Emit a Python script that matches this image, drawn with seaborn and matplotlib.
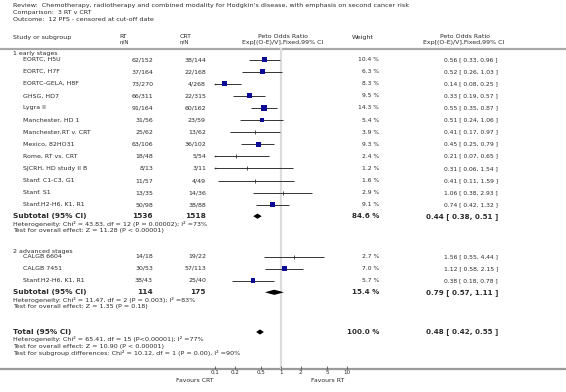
import numpy as np
import pandas as pd
import matplotlib
matplotlib.use("Agg")
import matplotlib.pyplot as plt
import seaborn as sns
from matplotlib.patches import Polygon

# ---------------- data ----------------
title_lines = [
    "Review:  Chemotherapy, radiotherapy and combined modality for Hodgkin's disease, with emphasis on second cancer risk",
    "Comparison:  3 RT v CRT",
    "Outcome:  12 PFS - censored at cut-off date",
]

g1_name = "1 early stages"
g1_studies = ["EORTC, H5U", "EORTC, H7F", "EORTC-GELA, H8F", "GHSG, HD7", "Lygra II",
              "Manchester, HD 1", "Manchester,RT v. CRT", "Mexico, 82HO31", "Rome, RT vs. CRT",
              "SJCRH, HD study II B", "Stanf. C1-C3, G1", "Stanf. S1", "Stanf.H2-H6, K1, R1"]
g1_rt = ["62/152", "37/164", "73/270", "66/311", "91/164", "31/56", "25/62", "63/106",
         "18/48", "8/13", "11/57", "13/35", "50/98"]
g1_crt = ["38/144", "22/168", "4/268", "22/315", "60/162", "23/59", "13/62", "36/102",
          "5/54", "3/11", "4/49", "14/36", "38/88"]
g1_weight = [10.4, 6.3, 8.3, 9.5, 14.3, 5.4, 3.9, 9.3, 2.4, 1.2, 1.6, 2.9, 9.1]
g1_or = [0.56, 0.52, 0.14, 0.33, 0.55, 0.51, 0.41, 0.45, 0.21, 0.31, 0.41, 1.06, 0.74]
g1_lo = [0.33, 0.26, 0.08, 0.19, 0.35, 0.24, 0.17, 0.25, 0.07, 0.06, 0.11, 0.38, 0.42]
g1_hi = [0.96, 1.03, 0.25, 0.57, 0.87, 1.06, 0.97, 0.79, 0.65, 1.54, 1.59, 2.93, 1.32]
g1_sub_n = ["1536", "1518"]
g1_sub = [84.6, 0.44, 0.38, 0.51]
g1_het = ["Heterogeneity: Chi² = 43.83, df = 12 (P = 0.00002); I² =73%",
          "Test for overall effect: Z = 11.28 (P < 0.00001)"]

g2_name = "2 advanced stages"
g2_studies = ["CALGB 6604", "CALGB 7451", "Stanf.H2-H6, K1, R1"]
g2_rt = ["14/18", "30/53", "38/43"]
g2_crt = ["19/22", "57/113", "25/40"]
g2_weight = [2.7, 7.0, 5.7]
g2_or = [1.56, 1.12, 0.38]
g2_lo = [0.55, 0.58, 0.18]
g2_hi = [4.44, 2.15, 0.78]
g2_sub_n = ["114", "175"]
g2_sub = [15.4, 0.79, 0.57, 1.11]
g2_het = ["Heterogeneity: Chi² = 11.47, df = 2 (P = 0.003); I² =83%",
          "Test for overall effect: Z = 1.35 (P = 0.18)"]

total = [100.0, 0.48, 0.42, 0.55]
total_het = ["Heterogeneity: Chi² = 65.41, df = 15 (P<0.00001); I² =77%",
             "Test for overall effect: Z = 10.90 (P < 0.00001)",
             "Test for subgroup differences: Chi² = 10.12, df = 1 (P = 0.00), I² =90%"]

tick_vals = [0.1, 0.2, 0.5, 1, 2, 5, 10]
tick_labels = ["0.1", "0.2", "0.5", "1", "2", "5", "10"]
left_label, right_label = "Favours CRT", "Favours RT"

# ---------------- figure ----------------
sns.set_theme(style="white")
plt.rcParams['font.family'] = ['DejaVu Sans']
W, H = 566, 392
fig = plt.figure(figsize=(W / 100, H / 100), dpi=100)
fig.patch.set_facecolor("white")

ax = fig.add_axes([0, 0, 1, 1])
ax.set_xlim(0, W)
ax.set_ylim(H, 0)
ax.axis("off")

# forest axes (log scale), placed in pixel frame
FX0, FX1, FY0, FY1 = 215, 347, 48, 369
axf = fig.add_axes([FX0 / W, 1 - FY1 / H, (FX1 - FX0) / W, (FY1 - FY0) / H])
axf.set_xscale("log")
axf.set_xlim(0.1, 10)
axf.set_ylim(FY1, FY0)
axf.patch.set_visible(False)
for s in axf.spines.values():
    s.set_visible(False)

TXT = "#2a2a2a"
FS = 4.5
FSB = 5.3
FSH = 4.55
BLUE = "#0b0b98"

def t(x, y, s, ha="left", size=FS, weight="normal", color=TXT):
    ax.text(x, y, s, ha=ha, va="center", fontsize=size, fontweight=weight, color=color)

# title block
for i, line in enumerate(title_lines):
    t(13, 5 + 7 * i, line, size=4.6)

# header
t(13, 37, "Study or subgroup")
t(119, 36, "RT"); t(119, 42, "n/N", size=4.0)
t(180, 36, "CRT"); t(180, 42, "n/N", size=4.0)
t(283, 36, "Peto Odds Ratio", ha="center")
t(283, 42, "Exp[(O-E)/V],Fixed,99% CI", ha="center")
t(352, 37, "Weight")
t(465, 36, "Peto Odds Ratio", ha="center")
t(464, 42, "Exp[(O-E)/V],Fixed,99% CI", ha="center")
ax.plot([0, W], [48.5, 48.5], color="#a8a8a8", lw=1.6, solid_capstyle="butt")

# vertical line at 1
axf.axvline(1, color="#dcdcdc", lw=1.6, zorder=0)

X_RT, X_CRT, X_W, X_EFF = 153, 206, 379, 498

rows = []  # for the forest marks

def study_rows(names, rt, crt, wt, est, lo, hi, y0, step):
    for i in range(len(names)):
        y = y0 + step * i
        t(23, y, names[i])
        t(X_RT, y, rt[i], ha="right")
        t(X_CRT, y, crt[i], ha="right")
        t(X_W, y, f"{wt[i]:.1f} %", ha="right", size=4.3)
        t(X_EFF, y, f"{est[i]:.2f} [ {lo[i]:.2f}, {hi[i]:.2f} ]", ha="right", size=4.3)
        rows.append(dict(y=y, est=est[i], lo=lo[i], hi=hi[i], w=wt[i]))
    return y0 + step * (len(names) - 1)

def diamond(y, est, lo, hi, h=2.6):
    axf.add_patch(Polygon([(lo, y), (est, y - h), (hi, y), (est, y + h)],
                          closed=True, color="black", lw=0))

def summary_row(y, label, n, vals):
    t(13, y, label, size=FSB, weight="bold")
    if n:
        t(X_RT, y, n[0], ha="right", size=FSB, weight="bold")
        t(X_CRT, y, n[1], ha="right", size=FSB, weight="bold")
    t(X_W, y, f"{vals[0]:.1f} %", ha="right", size=FSB - 0.2, weight="bold")
    t(X_EFF, y, f"{vals[1]:.2f} [ {vals[2]:.2f}, {vals[3]:.2f} ]", ha="right",
      size=FSB - 0.2, weight="bold")
    diamond(y, vals[1], vals[2], vals[3])

# group 1
t(13, 53, g1_name)
y_last = study_rows(g1_studies, g1_rt, g1_crt, g1_weight, g1_or, g1_lo, g1_hi, 59.5, 12.1)
ys = y_last + 11.5
summary_row(ys, "Subtotal (95% CI)", g1_sub_n, g1_sub)
for k, line in enumerate(g1_het):
    t(13, ys + 7.3 + 7 * k, line, size=FSH)

# group 2
t(13, 251, g2_name)
y_last = study_rows(g2_studies, g2_rt, g2_crt, g2_weight, g2_or, g2_lo, g2_hi, 256.5, 12)
ys = y_last + 11.8
summary_row(ys, "Subtotal (95% CI)", g2_sub_n, g2_sub)
for k, line in enumerate(g2_het):
    t(13, ys + 7.3 + 7 * k, line, size=FSH)

# total
yt = 332
summary_row(yt, "Total (95% CI)", None, total)
for k, line in enumerate(total_het):
    t(13, yt + 7.3 + 7 * k, line, size=FSH)

# forest marks
df = pd.DataFrame(rows)
axf.hlines(df["y"], df["lo"], df["hi"], color="#333333", lw=0.7, zorder=2)
clipped = df[df["lo"] < 0.1]
axf.scatter(np.full(len(clipped), 0.1), clipped["y"], marker=(3, 0, 90), s=3.5,
            color="#333333", zorder=3, clip_on=False, linewidths=0)
big = df[df["w"] >= 5]
small = df[df["w"] < 5]
sns.scatterplot(data=big, x="est", y="y", size="w", sizes=(10, 15), marker="s",
                color=BLUE, linewidth=0, legend=False, ax=axf, zorder=4)
sns.scatterplot(data=small, x="est", y="y", marker="|", s=5, color="#333333",
                linewidth=0.6, legend=False, ax=axf, zorder=4)
axf.set_xlabel(""); axf.set_ylabel("")
axf.set_yticks([])

# axis
ax.plot([0, W], [369, 369], color="#9a9a9a", lw=1.6, solid_capstyle="butt", zorder=1)
axf.set_xticks(tick_vals)
axf.set_xticklabels(tick_labels)
axf.minorticks_off()
axf.tick_params(axis="x", which="major", direction="in", length=2.5, width=0.5,
                color="#333333", labelsize=4.1, labelcolor=TXT, pad=1.0, bottom=True)
t(213, 380, left_label, ha="right", size=4.4)
t(311, 380, right_label, ha="left", size=4.4)

fig.savefig("out.png", dpi=100, facecolor="white")
